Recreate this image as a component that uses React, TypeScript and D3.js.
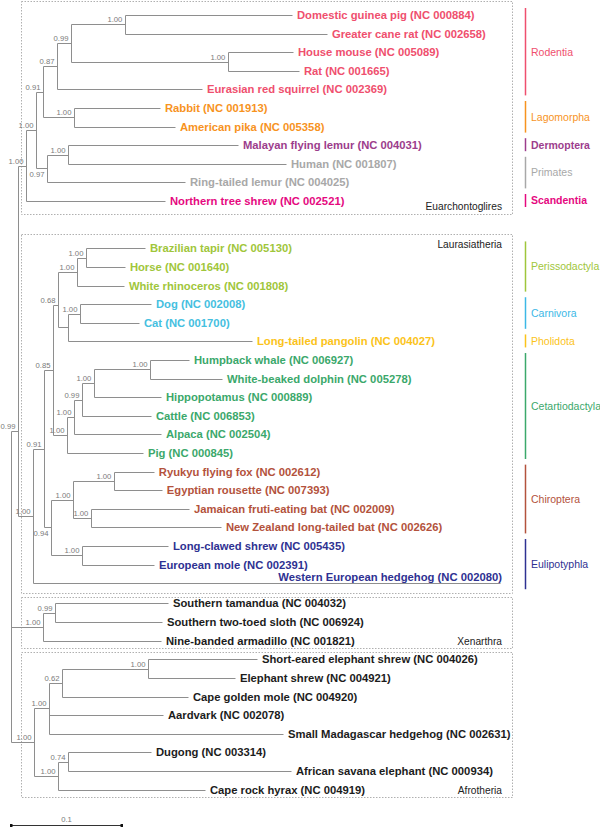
import React from "react";
import * as d3 from "d3";

// ---------- DATA ----------
const leafNames = [
  "Domestic guinea pig (NC 000884)",
  "Greater cane rat (NC 002658)",
  "House mouse (NC 005089)",
  "Rat (NC 001665)",
  "Eurasian red squirrel (NC 002369)",
  "Rabbit (NC 001913)",
  "American pika (NC 005358)",
  "Malayan flying lemur (NC 004031)",
  "Human (NC 001807)",
  "Ring-tailed lemur (NC 004025)",
  "Northern tree shrew (NC 002521)",
  "Brazilian tapir (NC 005130)",
  "Horse (NC 001640)",
  "White rhinoceros (NC 001808)",
  "Dog (NC 002008)",
  "Cat (NC 001700)",
  "Long-tailed pangolin (NC 004027)",
  "Humpback whale (NC 006927)",
  "White-beaked dolphin (NC 005278)",
  "Hippopotamus (NC 000889)",
  "Cattle (NC 006853)",
  "Alpaca (NC 002504)",
  "Pig (NC 000845)",
  "Ryukyu flying fox (NC 002612)",
  "Egyptian rousette (NC 007393)",
  "Jamaican fruti-eating bat (NC 002009)",
  "New Zealand long-tailed bat (NC 002626)",
  "Long-clawed shrew (NC 005435)",
  "European mole (NC 002391)",
  "Western European hedgehog (NC 002080)",
  "Southern tamandua (NC 004032)",
  "Southern two-toed sloth (NC 006924)",
  "Nine-banded armadillo (NC 001821)",
  "Short-eared elephant shrew (NC 004026)",
  "Elephant shrew (NC 004921)",
  "Cape golden mole (NC 004920)",
  "Aardvark (NC 002078)",
  "Small Madagascar hedgehog (NC 002631)",
  "Dugong (NC 003314)",
  "African savana elephant (NC 000934)",
  "Cape rock hyrax (NC 004919)",
];
const leafParents = [
  "GpCr", "GpCr", "MR", "MR", "Ro", "Lago", "Lago", "FL", "FL", "Prim", "E",
  "TH", "TH", "Peri", "Carn", "Carn", "CP", "WD", "WD", "C3", "C99", "C2", "Cet",
  "Pter", "Pter", "Vesp", "Vesp", "Euli", "Euli", "L",
  "X99", "X99", "Xen",
  "ES", "ES", "A62", "A1", "A1", "P74", "P74", "Paen",
];
const leafLengths = [
  0.1505, 0.182, 0.0586, 0.064, 0.1306, 0.0775, 0.091, 0.1532, 0.1964, 0.1243, 0.1252,
  0.0532, 0.0351, 0.0423, 0.064, 0.0532, 0.1658, 0.0351, 0.0649, 0.0604, 0.0622, 0.0784, 0.0685,
  0.036, 0.0432, 0.0883, 0.1171, 0.0775, 0.0649, 0.4207,
  0.1018, 0.0964, 0.1063,
  0.0982, 0.0784, 0.1135, 0.1027, 0.2108, 0.0748, 0.2009, 0.1324,
];

const nodeIds = ["R", "B", "E", "EG", "G", "Ro", "R99", "GpCr", "MR", "Lago", "Prim", "FL",
  "L", "L91", "L85", "L68", "Peri", "TH", "CP", "Carn", "Cet", "C2", "C99", "C3", "WD",
  "L94", "Chiro", "Pter", "Vesp", "Euli", "Xen", "X99", "Afro", "A1", "A62", "ES", "Paen", "P74"];
const nodeParents = [null, "R", "B", "E", "EG", "G", "Ro", "R99", "R99", "G", "EG", "Prim",
  "B", "L", "L91", "L85", "L68", "Peri", "L68", "CP", "L85", "Cet", "C2", "C99", "C3",
  "L91", "L94", "Chiro", "Chiro", "L94", "R", "Xen", "R", "Afro", "A1", "A62", "Afro", "Paen"];
const nodeLengths = [0, 0.0063, 0.0072, 0.009, 0.0063, 0.0126, 0.0126, 0.0486, 0.1414, 0.0279, 0.0099, 0.0189,
  0.0135, 0.0099, 0.0081, 0.0045, 0.0171, 0.0081, 0.009, 0.0108, 0.0126, 0.0063, 0.0072, 0.0108, 0.0505,
  0.0063, 0.0198, 0.0369, 0.0162, 0.0279, 0.0288, 0.0108, 0.0207, 0.0135, 0.0117, 0.0775, 0.0216, 0.009];
const nodeSupport = ["", "0.99", "1.00", "1.00", "0.91", "0.87", "0.99", "1.00", "1.00", "1.00", "0.97", "1.00",
  "1.00", "0.91", "0.85", "0.68", "1.00", "1.00", "", "1.00", "1.00", "1.00", "0.99", "1.00", "1.00",
  "0.94", "1.00", "1.00", "1.00", "1.00", "1.00", "0.99", "1.00", "1.00", "0.62", "1.00", "1.00", "0.74"];
const supportBelow = ["Prim", "L94"];
const attachOverrideIds = ["B", "L68"];
const attachOverrideRows = [22.37, 15.6];

const orderNames = ["Rodentia", "Lagomorpha", "Dermoptera", "Primates", "Scandentia",
  "Perissodactyla", "Carnivora", "Pholidota", "Cetartiodactyla", "Chiroptera", "Eulipotyphla"];
const orderFirst = [0, 5, 7, 8, 10, 11, 14, 16, 17, 23, 27];
const orderLast = [4, 6, 7, 9, 10, 13, 15, 16, 22, 26, 29];
const orderColors = ["#ef4f6e", "#f7931e", "#9c3d8c", "#a8a8a8", "#e5097f",
  "#9fc63b", "#3cb8e6", "#fbc31a", "#3ba86b", "#b3523c", "#2e3192"];
const orderBold = [false, false, true, false, true, false, false, false, false, false, false];
const leafTextColorsOverride = { 14: "#45c0df", 15: "#45c0df" } as Record<number, string>;

const cladeNames = ["Euarchontoglires", "Laurasiatheria", "Xenarthra", "Afrotheria"];
const cladeFirst = [0, 11, 30, 33];
const cladeLast = [10, 29, 32, 40];
const cladeRowOffset = [0, 1.55, 1.63, 1.64];
const labelAboveLeaves = [29];

// ---------- LAYOUT ----------
const W = 600, H = 827;
const cladePadTop = [14, 14, 6, 7];
const cladePadBottom = [13, 10, 8, 8];
const cladeLabelTop = [false, true, false, false];
const FONT = "'Liberation Sans', Arial, Helvetica, sans-serif";
const LINE = "#8e8e8e";

export default function App() {
  const xScale = d3.scaleLinear().domain([0, 0.1]).range([11, 122]);
  const yScale = d3.scaleLinear().domain([0, 1]).range([15, 33.6]);

  const rowOf = (i: number) => {
    const c = cladeFirst.findIndex((f, k) => i >= f && i <= cladeLast[k]);
    return i + cladeRowOffset[c];
  };

  const table: any[] = [
    ...nodeIds.map((id, i) => ({ id, parent: nodeParents[i], len: nodeLengths[i], support: nodeSupport[i], leaf: -1 })),
    ...leafNames.map((n, i) => ({ id: "leaf" + i, parent: leafParents[i], len: leafLengths[i], support: "", leaf: i })),
  ];
  const root: any = d3.stratify<any>().id((d) => d.id).parentId((d) => d.parent)(table);

  root.eachBefore((n: any) => {
    n.dist = n.parent ? n.parent.dist + n.data.len : 0;
    n.px = xScale(n.dist);
  });
  root.eachAfter((n: any) => {
    if (n.data.leaf >= 0) {
      n.py = yScale(rowOf(n.data.leaf));
    } else {
      const ys = n.children.map((c: any) => c.py);
      n.lo = d3.min(ys);
      n.hi = d3.max(ys);
      const oi = attachOverrideIds.indexOf(n.data.id);
      n.py = oi >= 0 ? yScale(attachOverrideRows[oi]) : (n.lo + n.hi) / 2;
    }
  });

  const nodes = root.descendants();
  const r = (v: number) => Math.round(v) + 0.5;

  const leafColor = (i: number) => {
    if (leafTextColorsOverride[i]) return leafTextColorsOverride[i];
    const o = orderFirst.findIndex((f, k) => i >= f && i <= orderLast[k]);
    return o >= 0 ? orderColors[o] : "#1c1c1c";
  };

  return (
    <svg width={W} height={H} style={{ position: "absolute", left: 0, top: 0, background: "#fff" }} fontFamily={FONT}>
      {/* clade boxes */}
      {cladeNames.map((name, k) => {
        const y0 = yScale(rowOf(cladeFirst[k])) - cladePadTop[k];
        const y1 = yScale(rowOf(cladeLast[k])) - 0 + cladePadBottom[k];
        return (
          <g key={name}>
            <rect x={21.5} y={Math.round(y0) + 0.5} width={491} height={Math.round(y1 - y0)}
              fill="none" stroke="#b0b0b0" strokeWidth={1} strokeDasharray="1.5,1.5" />
            <text x={502} y={cladeLabelTop[k] ? y0 + 14 : y1 - 4} textAnchor="end" fontSize={10.2} fill="#222">{name}</text>
          </g>
        );
      })}

      {/* branches */}
      {nodes.map((n: any) => (
        <g key={n.data.id}>
          {n.parent && (
            <line x1={r(n.parent.px)} x2={r(n.px)} y1={r(n.py)} y2={r(n.py)} stroke={LINE} strokeWidth={1} />
          )}
          {n.children && (
            <line x1={r(n.px)} x2={r(n.px)} y1={r(n.lo)} y2={r(n.hi)} stroke={LINE} strokeWidth={1} />
          )}
        </g>
      ))}

      {/* support values */}
      {nodes.filter((n: any) => n.data.support).map((n: any) => {
        const below = supportBelow.includes(n.data.id);
        return (
          <text key={"s" + n.data.id} x={n.px - 2.5} y={below ? n.py + 8.5 : n.py - 2}
            textAnchor="end" fontSize={7.7} fill="#7a7a7a">{n.data.support}</text>
        );
      })}

      {/* leaf labels */}
      {nodes.filter((n: any) => n.data.leaf >= 0).map((n: any) => {
        const i = n.data.leaf;
        const above = labelAboveLeaves.includes(i);
        return (
          <text key={"l" + i} x={above ? n.px + 2 : n.px + 5} y={above ? n.py - 2.5 : n.py + 4}
            textAnchor={above ? "end" : "start"} fontSize={11.25} fontWeight="bold" fill={leafColor(i)}>
            {leafNames[i]}
          </text>
        );
      })}

      {/* order bars */}
      {orderNames.map((name, k) => {
        const y0 = yScale(rowOf(orderFirst[k])) - 7;
        const y1 = yScale(rowOf(orderLast[k])) + 6;
        return (
          <g key={name}>
            <line x1={525.5} x2={525.5} y1={y0} y2={y1} stroke={orderColors[k]} strokeWidth={1.5} />
            <text x={531} y={(y0 + y1) / 2 + 3.8} fontSize={10.5} fontWeight={orderBold[k] ? "bold" : "normal"}
              fill={orderColors[k]}>{name}</text>
          </g>
        );
      })}

      {/* scale bar */}
      <g>
        <line x1={xScale(0)} x2={xScale(0.1)} y1={825.5} y2={825.5} stroke="#333" strokeWidth={1} />
        <rect x={xScale(0) - 1} y={824} width={2.5} height={3} fill="#111" />
        <rect x={xScale(0.1) - 1.5} y={824} width={2.5} height={3} fill="#111" />
        <text x={(xScale(0) + xScale(0.1)) / 2} y={821.5} textAnchor="middle" fontSize={7.7} fill="#7a7a7a">0.1</text>
      </g>
    </svg>
  );
}
